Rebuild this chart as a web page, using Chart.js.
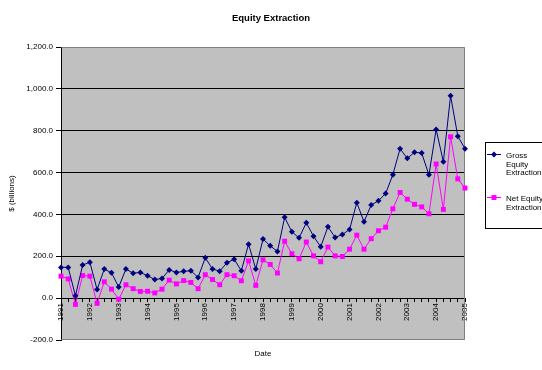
<!DOCTYPE html>
<html><head><meta charset="utf-8">
<style>html,body{margin:0;padding:0;background:#fff;}canvas{display:block;}</style>
<script src="https://cdn.jsdelivr.net/npm/chart.js@4/dist/chart.umd.min.js"></script>
</head><body>
<canvas id="c" width="542" height="370"></canvas>
<script>
const years = [1991,1992,1993,1994,1995,1996,1997,1998,1999,2000,2001,2002,2003,2004,2005];
const quarters = ['Q1','Q2','Q3','Q4'];
const categories = years.flatMap(y => quarters.map(q => y + ' ' + q)).slice(0, 57);
const grossEquity = [147,147,11,158,172,41,139,121,53,139,119,123,107,89,94,135,123,128,131,99,
  193,139,129,169,186,131,258,139,282,250,223,386,317,288,360,296,245,341,290,304,
  328,456,365,445,465,500,590,714,668,697,693,589,806,652,967,774,714];
const netEquity = [105,92,-30,108,105,-25,78,43,-5,64,45,32,33,25,43,86,68,84,75,45,
  112,89,64,112,107,83,178,61,183,161,120,272,212,188,268,202,174,244,202,199,
  234,301,234,284,322,339,427,505,473,448,436,403,641,424,771,570,526];
const yTicks = [-200,0,200,400,600,800,1000,1200];
const seriesNames = ['Gross Equity Extraction','Net Equity Extraction'];

Chart.defaults.font.family = '"Liberation Sans", Arial, sans-serif';
Chart.defaults.font.size = 8;
Chart.defaults.color = '#000';

const bgPlugin = {
  id: 'plotBg',
  beforeDraw(chart) {
    const {ctx, chartArea: a} = chart;
    ctx.save();
    ctx.fillStyle = '#C0C0C0';
    ctx.fillRect(a.left, a.top, a.right - a.left, a.bottom - a.top);
    ctx.restore();
  },
  beforeDatasetsDraw(chart) {
    const {ctx, chartArea: a} = chart;
    ctx.save();
    ctx.strokeStyle = '#808080';
    ctx.lineWidth = 1;
    ctx.beginPath();
    const l = Math.round(a.left) + 0.5, r = Math.round(a.right) - 0.5;
    const t = Math.round(a.top) + 0.5, b = Math.round(a.bottom) - 0.5;
    ctx.moveTo(l, t); ctx.lineTo(r, t); ctx.lineTo(r, b); ctx.lineTo(l, b);
    ctx.stroke();
    ctx.restore();
  }
};

function marker(ctx, style, x, y, r, color) {
  ctx.fillStyle = color; ctx.strokeStyle = color;
  ctx.beginPath();
  if (style === 'rectRot') {
    ctx.moveTo(x, y - r); ctx.lineTo(x + r, y); ctx.lineTo(x, y + r); ctx.lineTo(x - r, y);
  } else {
    const s = r * Math.SQRT1_2;
    ctx.rect(x - s, y - s, 2 * s, 2 * s);
  }
  ctx.closePath(); ctx.fill();
}

// Legend as a right-side layout box (not full size, so the title stays centred on the canvas)
const legendPlugin = {
  id: 'boxLegend',
  beforeInit(chart) {
    const box = {
      position: 'right', weight: 10, fullSize: false, options: {},
      left: 0, top: 0, right: 0, bottom: 0, width: 0, height: 0,
      isHorizontal() { return false; },
      update(maxW, maxH) { this.width = 77; this.height = maxH; },
      draw() {
        const ctx = chart.ctx;
        const bx = this.left + 20.5, by = 142.5;
        ctx.save();
        ctx.fillStyle = '#fff';
        ctx.fillRect(bx, by, 90, 86);
        ctx.strokeStyle = '#000'; ctx.lineWidth = 1;
        ctx.strokeRect(bx, by, 90, 86);
        ctx.font = '8px "Liberation Sans", Arial, sans-serif';
        ctx.textBaseline = 'middle';
        const rows = [154.5, 197.5];
        chart.data.datasets.forEach((ds, i) => {
          const y = rows[i];
          ctx.strokeStyle = ds.borderColor; ctx.lineWidth = 1;
          ctx.beginPath(); ctx.moveTo(bx + 1.5, y); ctx.lineTo(bx + 15.5, y); ctx.stroke();
          marker(ctx, ds.pointStyle, bx + 8.5, y, ds.pointRadius, ds.borderColor);
          const words = ds.label.split(' ');
          const lines = []; let cur = '';
          words.forEach(w => {
            const t = cur ? cur + ' ' + w : w;
            if (cur && ctx.measureText(t).width > 40) { lines.push(cur); cur = w; } else cur = t;
          });
          lines.push(cur);
          ctx.fillStyle = '#000';
          lines.forEach((ln, k) => ctx.fillText(ln, bx + 20.5, y + 1.5 + k * 8.5));
        });
        ctx.restore();
      }
    };
    Chart.layouts.addBox(chart, box);
  }
};

new Chart(document.getElementById('c'), {
  type: 'line',
  data: {
    labels: categories,
    datasets: [
      {label: seriesNames[0], data: grossEquity, borderColor: '#000080', backgroundColor: '#000080',
       borderWidth: 1, pointStyle: 'rectRot', pointRadius: 3, pointBorderWidth: 0, tension: 0},
      {label: seriesNames[1], data: netEquity, borderColor: '#FF00FF', backgroundColor: '#FF00FF',
       borderWidth: 1, pointStyle: 'rect', pointRadius: 3.5, pointBorderWidth: 0, tension: 0}
    ]
  },
  options: {
    responsive: false,
    animation: false,
    layout: {padding: {left: 0, right: 0, top: 0, bottom: 30}},
    plugins: {
      legend: {display: false},
      tooltip: {enabled: false},
      title: {display: true, text: 'Equity Extraction', color: '#000',
              font: {size: 9.5, weight: 'bold'}, padding: {top: 13, bottom: 22.6}}
    },
    scales: {
      x: {
        type: 'category',
        position: {y: 0},
        offset: false,
        grid: {drawOnChartArea: false, drawTicks: true, tickLength: 3, tickColor: '#000'},
        border: {display: true, color: '#000', width: 1},
        ticks: {autoSkip: false, maxRotation: 90, minRotation: 90, padding: 2, color: '#000',
                font: {size: 8},
                callback: (v, i) => (i % 4 === 0 ? categories[i].slice(0, 4) : '')},
        title: {display: true, text: 'Date', color: '#000', font: {size: 8}, padding: {top: 26, bottom: 0}}
      },
      y: {
        min: yTicks[0],
        max: yTicks[yTicks.length - 1],
        ticks: {stepSize: yTicks[1] - yTicks[0], color: '#000', font: {size: 8}, padding: 3,
                callback: v => v.toLocaleString('en-US', {minimumFractionDigits: 1, maximumFractionDigits: 1})},
        grid: {color: c => (c.tick && (c.tick.value === yTicks[0] || c.tick.value === yTicks[yTicks.length - 1])) ? 'rgba(0,0,0,0)' : '#000',
               tickColor: '#000', tickLength: 5, lineWidth: 1},
        border: {display: true, color: '#000', width: 1},
        title: {display: true, text: '$ (billions)', color: '#000', font: {size: 8}, padding: {top: 7, bottom: 0}},
        afterFit: s => { s.width = 61; }
      }
    }
  },
  plugins: [bgPlugin, legendPlugin]
});
</script>
</body></html>
